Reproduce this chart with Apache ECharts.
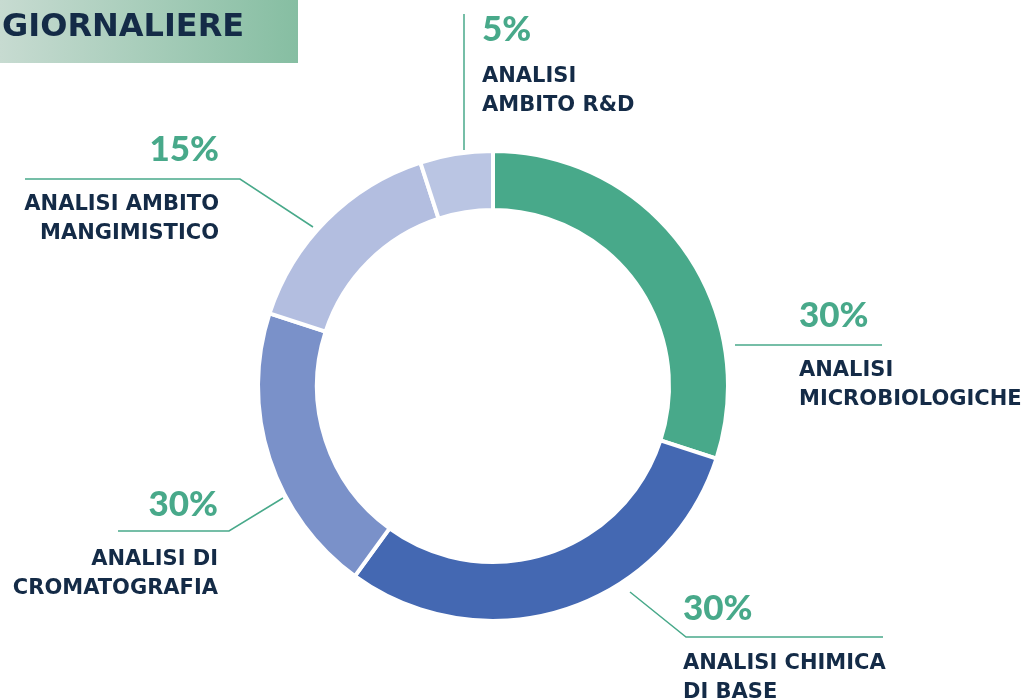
<!DOCTYPE html>
<html>
<head>
<meta charset="utf-8">
<script src="https://cdn.jsdelivr.net/npm/echarts@6/dist/echarts.min.js"></script>
<style>
html,body{margin:0;padding:0;background:#fff;}
#chart{width:1029px;height:700px;}
</style>
</head>
<body>
<div id="chart"></div>
<script>
// ---- data ----
var title = 'GIORNALIERE';
var categories = ['ANALISI\nMICROBIOLOGICHE', 'ANALISI CHIMICA\nDI BASE', 'ANALISI DI\nCROMATOGRAFIA', 'ANALISI AMBITO\nMANGIMISTICO', 'ANALISI\nAMBITO R&D'];
var values = [30, 30, 20, 15, 5];
var percentLabels = ['30%', '30%', '30%', '15%', '5%'];
var colors = ['#48A98A', '#4468B2', '#7A91C9', '#B3BEE0', '#BAC5E3'];

// ---- label layout (positions only) ----
var GREEN = '#48A98A';
var NAVY = '#142B47';
var NFONT = '"DejaVu Sans", Lato, sans-serif';
var PFONT = 'Lato, "Open Sans", sans-serif';
var P_LH = 80, P_LH_RD = 64, N_LH = 29;
var layouts = [
  {x: 799, pc: 316, align: 'left',  lh: P_LH,    line: [[735, 345], [735, 345], [882, 345]]},
  {x: 683, pc: 609, align: 'left',  lh: P_LH,    line: [[630, 592], [686, 637], [883, 637]]},
  {x: 218, pc: 505, align: 'right', lh: P_LH,    line: [[283, 498], [229, 531], [118, 531]]},
  {x: 219, pc: 150, align: 'right', lh: P_LH,    line: [[313, 227], [240, 179], [25, 179]]},
  {x: 482, pc: 30,  align: 'left',  lh: P_LH_RD, line: [[464, 150], [464, 150], [464, 14]]}
];

var chart = echarts.init(document.getElementById('chart'));
var data = categories.map(function (c, i) {
  var lines = c.split('\n').map(function (s) { return '{n|' + s + '}'; }).join('\n');
  return {
    name: c,
    value: values[i],
    itemStyle: {color: colors[i]},
    label: {
      formatter: '{' + (i === 4 ? 'q' : 'p') + '|' + percentLabels[i] + '}\n' + lines,
      align: layouts[i].align
    }
  };
});

chart.setOption({
  animation: false,
  graphic: [
    {
      type: 'rect', left: 0, top: 0,
      shape: {width: 298, height: 63},
      style: {
        fill: new echarts.graphic.LinearGradient(0, 0, 1, 0, [
          {offset: 0, color: '#C7DBD1'},
          {offset: 1, color: '#86BEA2'}
        ])
      },
      silent: true
    },
    {
      type: 'text', left: 2, top: 12,
      style: {text: title, fill: NAVY, font: 'bold 32px ' + NFONT}
    }
  ],
  series: [{
    type: 'pie',
    center: [493, 386],
    radius: [176, 235],
    startAngle: 90,
    clockwise: true,
    avoidLabelOverlap: false,
    emphasis: {disabled: true},
    itemStyle: {borderColor: '#ffffff', borderWidth: 4},
    label: {
      show: true,
      position: 'outside',
      rich: {
        p: {fontFamily: PFONT, fontWeight: 900, fontSize: 35, color: GREEN, lineHeight: P_LH},
        q: {fontFamily: PFONT, fontWeight: 900, fontSize: 35, color: GREEN, lineHeight: P_LH_RD},
        n: {fontFamily: NFONT, fontWeight: 'bold', fontSize: 21, color: NAVY, lineHeight: N_LH}
      }
    },
    labelLine: {show: true, lineStyle: {color: GREEN, width: 1.5}},
    labelLayout: function (params) {
      var l = layouts[params.dataIndex];
      return {
        x: l.x,
        y: l.pc - l.lh / 2,
        align: l.align,
        verticalAlign: 'top',
        labelLinePoints: l.line
      };
    },
    data: data
  }]
});
</script>
</body>
</html>
